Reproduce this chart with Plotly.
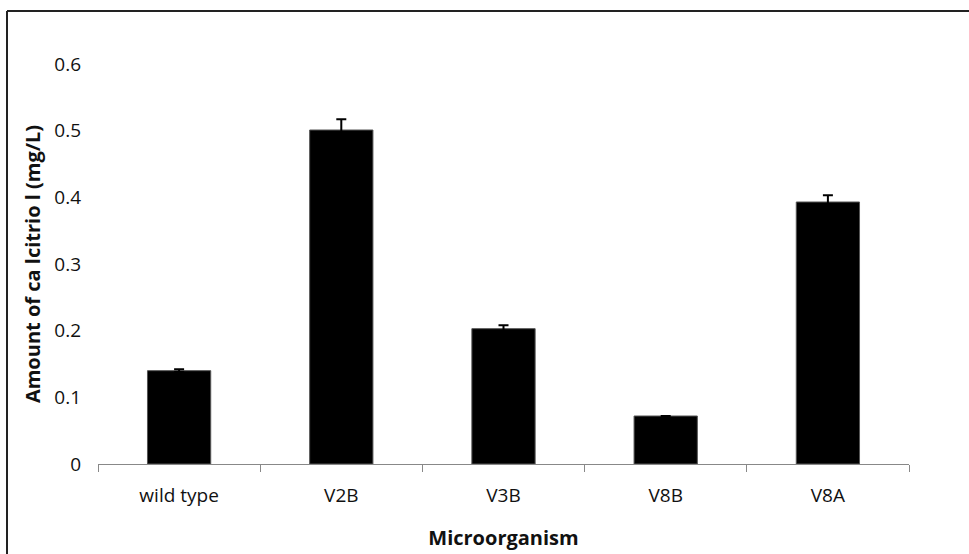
import plotly.graph_objects as go

categories = ["wild type", "V2B", "V3B", "V8B", "V8A"]
values = [0.140, 0.501, 0.203, 0.072, 0.393]
errors = [0.002, 0.016, 0.005, 0.0, 0.010]
y_ticks = [0, 0.1, 0.2, 0.3, 0.4, 0.5, 0.6]
y_tick_text = ["0", "0.1", "0.2", "0.3", "0.4", "0.5", "0.6"]

L, R, T, B = 98, 60, 64, 90
W, H = 969, 554
pw, ph = W - L - R, H - T - B

fig = go.Figure()
fig.add_trace(go.Bar(
    x=categories, y=values,
    marker=dict(color="black", line=dict(color="#555", width=1)),
    width=0.39,
    error_y=dict(type="data", array=errors, visible=True, color="black",
                 thickness=2, width=5),
))

font_family = "Open Sans, DejaVu Sans Condensed, sans-serif"
fig.update_layout(
    width=W, height=H,
    margin=dict(l=L, r=R, t=T, b=B),
    paper_bgcolor="white", plot_bgcolor="white",
    showlegend=False,
    font=dict(family=font_family, color="#111"),
    xaxis=dict(
        type="category", tickson="boundaries", ticks="outside", ticklen=7,
        tickcolor="#888", tickwidth=1, showline=True, linecolor="#888",
        linewidth=1, showgrid=False, automargin=False,
        tickfont=dict(size=19, family=font_family),
        ticklabelstandoff=14,
        title=dict(text="<b>Microorganism</b>", font=dict(size=20), standoff=24),
    ),
    yaxis=dict(
        range=[0, 0.6], tickvals=y_ticks, ticktext=y_tick_text,
        showgrid=False, showline=False, zeroline=False, ticks="",
        automargin=False,
        tickfont=dict(size=19, family=font_family),
        ticklabelstandoff=16,
        title=dict(text="<b>Amount of ca lcitrio l (mg/L)</b>", font=dict(size=20), standoff=8),
    ),
)

# outer frame (left and top edges visible; right/bottom cropped)
fx0 = (7 - L) / pw
fy1 = (H - B - 11) / ph
fig.add_shape(type="line", xref="paper", yref="paper", x0=fx0, x1=fx0, y0=fy1, y1=-0.5,
              line=dict(color="#222", width=2))
fig.add_shape(type="line", xref="paper", yref="paper", x0=fx0, x1=1.5, y0=fy1, y1=fy1,
              line=dict(color="#222", width=2))

fig.write_html("out.html")
